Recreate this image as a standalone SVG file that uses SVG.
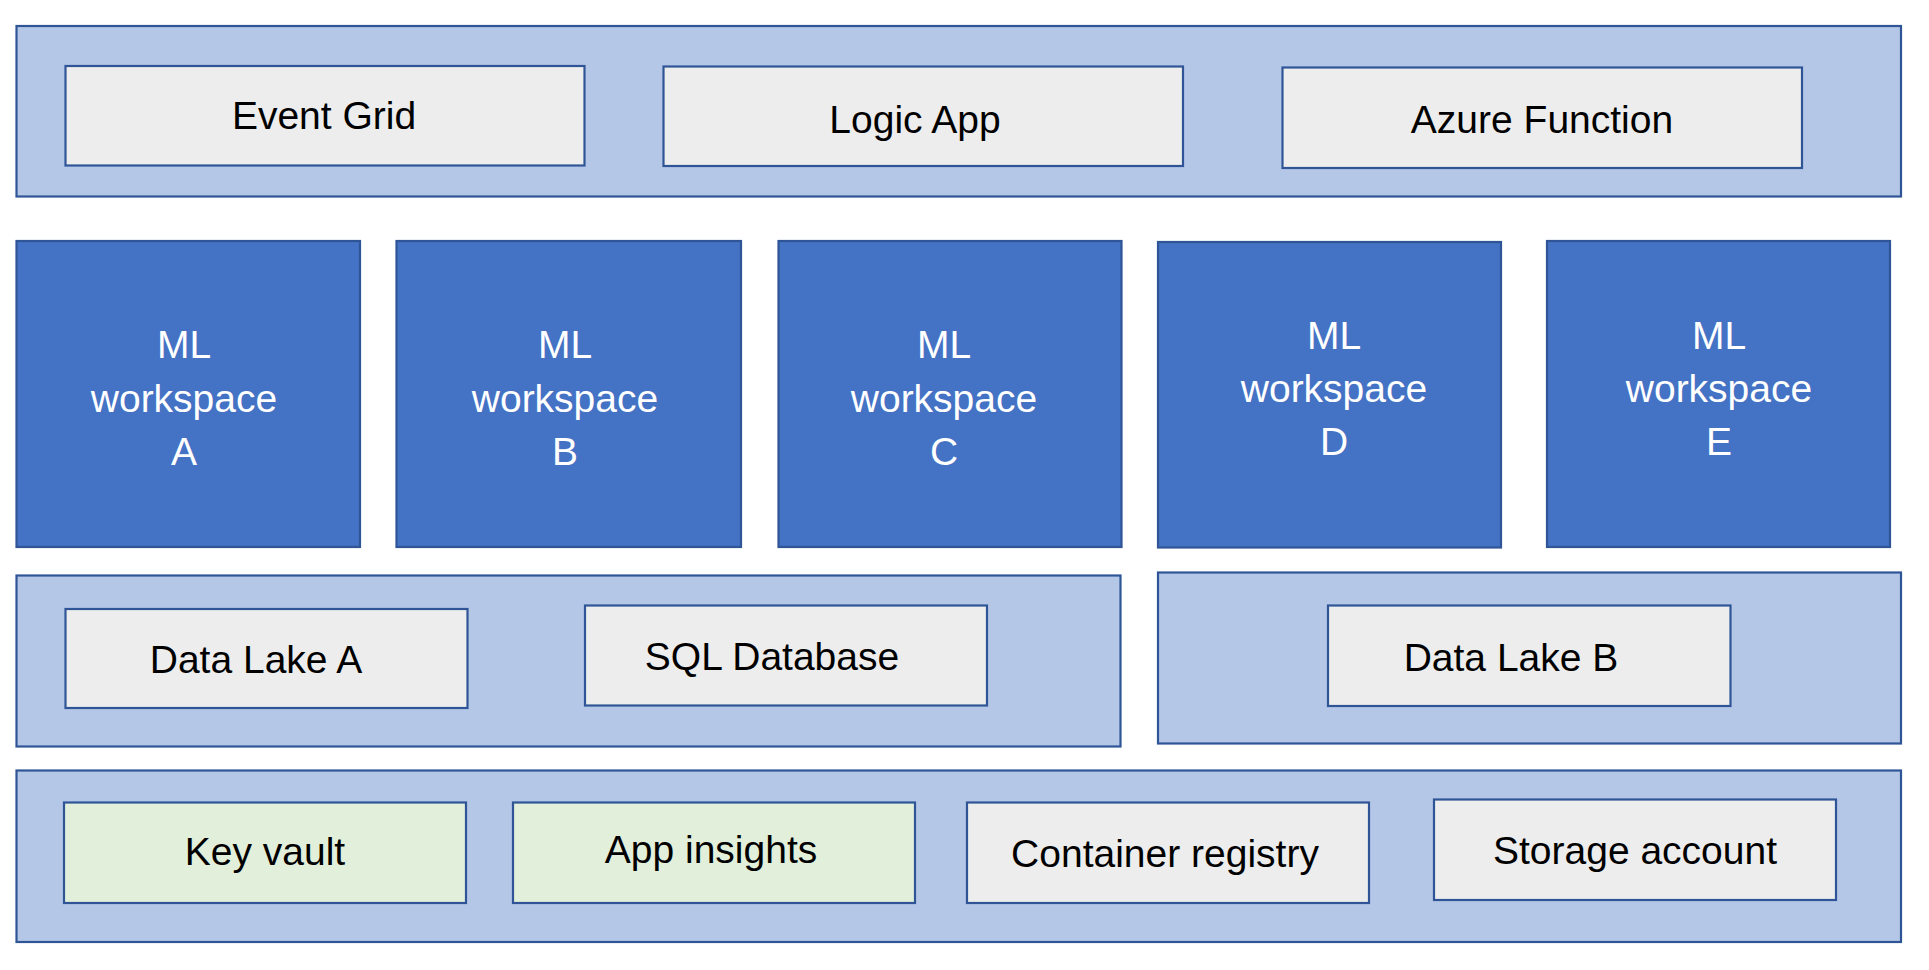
<svg xmlns="http://www.w3.org/2000/svg" width="1929" height="970" viewBox="0 0 1929 970">
<style>
.band{fill:#B4C7E7;stroke:#2F5597;stroke-width:2.2}
.box{fill:#EDEDED;stroke:#2F5597;stroke-width:2.2}
.grn{fill:#E2EFDA;stroke:#2F5597;stroke-width:2.2}
.ml{fill:#4472C4;stroke:#2F5597;stroke-width:2.2}
text{font-family:"Liberation Sans",Arial,sans-serif;font-size:39px;text-anchor:middle}
.dk{fill:#000}
.wt{fill:#FFFFFF}
</style>
<rect width="1929" height="970" fill="#FFFFFF"/>
<g id="band-top"><rect class="band" x="16.5" y="26" width="1884.5" height="170.5"/></g>
<g id="event-grid"><rect class="box" x="65.5" y="66" width="519" height="99.5"/><text class="dk" x="324" y="129">Event Grid</text></g>
<g id="logic-app"><rect class="box" x="663.5" y="66.5" width="519.5" height="99.5"/><text class="dk" x="915" y="132.5">Logic App</text></g>
<g id="azure-function"><rect class="box" x="1282.5" y="67.5" width="519.5" height="100.5"/><text class="dk" x="1542" y="133">Azure Function</text></g>
<g id="ml-a"><rect class="ml" x="16.5" y="241" width="343.5" height="306"/><text class="wt" x="184" y="358">ML</text><text class="wt" x="184" y="411.5">workspace</text><text class="wt" x="184" y="465">A</text></g>
<g id="ml-b"><rect class="ml" x="396.5" y="241" width="344.5" height="306"/><text class="wt" x="565" y="358">ML</text><text class="wt" x="565" y="411.5">workspace</text><text class="wt" x="565" y="465">B</text></g>
<g id="ml-c"><rect class="ml" x="778.5" y="241" width="343" height="306"/><text class="wt" x="944" y="358">ML</text><text class="wt" x="944" y="411.5">workspace</text><text class="wt" x="944" y="465">C</text></g>
<g id="ml-d"><rect class="ml" x="1158" y="242" width="343" height="305.5"/><text class="wt" x="1334" y="349">ML</text><text class="wt" x="1334" y="402">workspace</text><text class="wt" x="1334" y="455">D</text></g>
<g id="ml-e"><rect class="ml" x="1547" y="241" width="343" height="306"/><text class="wt" x="1719" y="349">ML</text><text class="wt" x="1719" y="402">workspace</text><text class="wt" x="1719" y="455">E</text></g>
<g id="band-data-left"><rect class="band" x="16.5" y="575.5" width="1104" height="171"/></g>
<g id="data-lake-a"><rect class="box" x="65.5" y="609" width="402" height="99"/><text class="dk" x="256" y="673">Data Lake A</text></g>
<g id="sql-database"><rect class="box" x="585" y="605.5" width="402" height="100"/><text class="dk" x="772" y="670">SQL Database</text></g>
<g id="band-data-right"><rect class="band" x="1158" y="572.5" width="743" height="171"/></g>
<g id="data-lake-b"><rect class="box" x="1328" y="605.5" width="402.5" height="100.5"/><text class="dk" x="1511" y="670.5">Data Lake B</text></g>
<g id="band-bottom"><rect class="band" x="16.5" y="770.5" width="1884.5" height="171.5"/></g>
<g id="key-vault"><rect class="grn" x="64" y="802.5" width="402" height="100.5"/><text class="dk" x="265" y="865">Key vault</text></g>
<g id="app-insights"><rect class="grn" x="513" y="802.5" width="402" height="100.5"/><text class="dk" x="711" y="863">App insights</text></g>
<g id="container-registry"><rect class="box" x="967" y="802.5" width="402" height="100.5"/><text class="dk" x="1165" y="866.5">Container registry</text></g>
<g id="storage-account"><rect class="box" x="1434" y="799.5" width="402" height="100.5"/><text class="dk" x="1635" y="864">Storage account</text></g>
<g id="connectors"></g>
</svg>
